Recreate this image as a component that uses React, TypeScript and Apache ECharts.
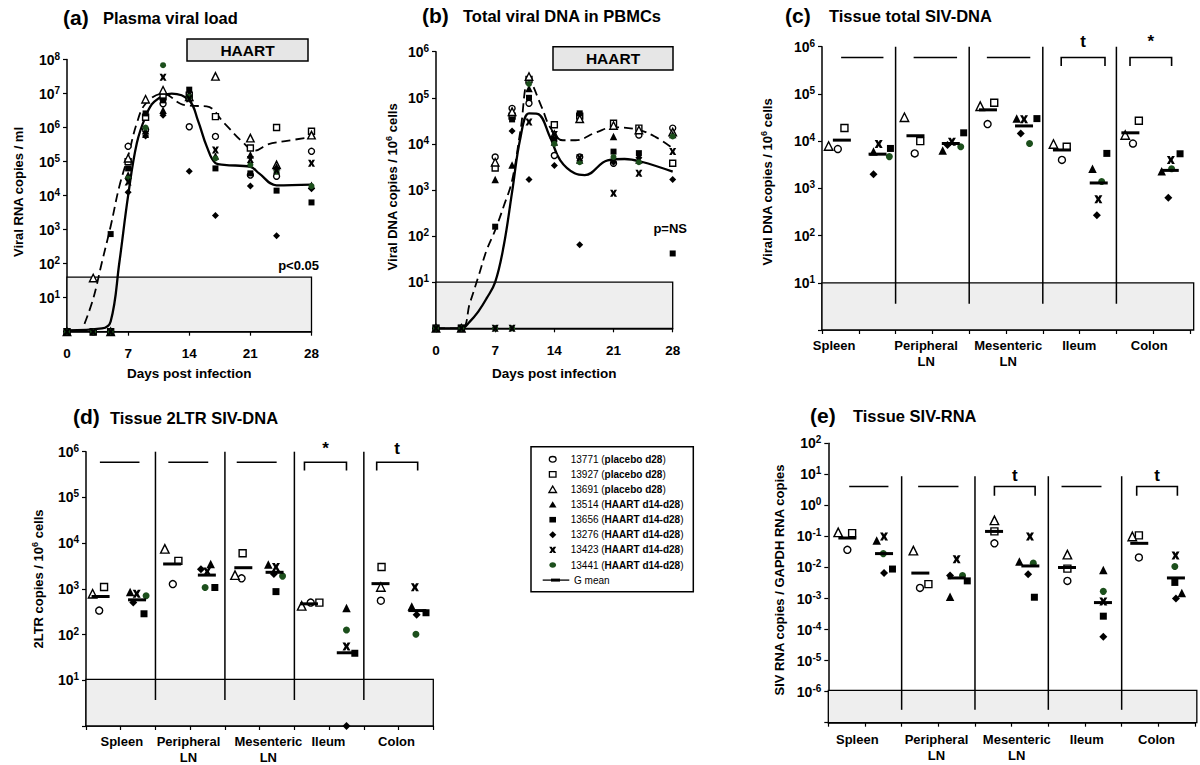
import React, { useEffect, useRef } from 'react';
import * as echarts from 'echarts';

const FONT = '"Liberation Sans", Arial, Helvetica, sans-serif';
const GREEN = '#1c4f1c';

// ---------------- animals / legend ----------------
const ANIMALS = ['13771', '13927', '13691', '13514', '13656', '13276', '13423', '13441'];
const GROUPS = ['placebo d28', 'placebo d28', 'placebo d28', 'HAART d14-d28', 'HAART d14-d28', 'HAART d14-d28', 'HAART d14-d28', 'HAART d14-d28'];
const MEAN_LABEL = 'G mean';

// ---------------- (a) plasma viral load (copies / ml) ----------------
const daysA = [0, 3, 5, 7, 9, 11, 14, 17, 21, 24, 28];
const plasmaA = [
  [1, 1, 1, 2.8e5, 8.7e5, 5e6, 1.05e6, 5.5e5, 4e4, 3.7e4, 2e5],
  [1, 1, 1, 1e5, 2e6, 8e6, 9e6, 2.1e6, 2.5e5, 1e6, 7.8e5],
  [1, 38, 1, 1.25e5, 6.8e6, 1.25e7, 8e6, 3.2e7, 4.9e5, 8e4, 6e5],
  [1, 1, 1, 4e4, 8e5, 3.2e6, 1e7, 1.45e5, 1.6e5, 7e4, 2e4],
  [1, 1, 740, 6.3e4, 2.6e6, 6.3e6, 1.3e7, 6.3e4, 4.5e4, 1.4e4, 6.3e3],
  [1, 1, 1, 1.25e4, 5.6e5, 2.3e6, 5.2e4, 2.6e3, 1.9e4, 660, 1.6e4],
  [1, 1, 1, 2.5e4, 6.3e5, 3e7, 7e6, 2.2e5, 1.15e5, 5.6e4, 9e4],
  [1, 1, 1, 3.2e4, 1e6, 6.8e7, 8e6, 1.25e5, 8e4, 5e4, 1.9e4],
];
const solidDaysA = [0, 4, 5, 6, 7, 8, 9, 10, 12, 14, 15, 16, 17, 18, 21, 22, 24, 28];
const solidA = [1.1, 1.25, 2, 110, 1e4, 3.5e5, 2.1e6, 5.8e6, 1e7, 6.3e6, 1.6e6, 2.8e5, 9e4, 8e4, 7e4, 4.5e4, 2e4, 2.1e4];
const dashDaysA = [2, 3, 4, 5, 6, 7, 8, 9, 11, 13, 14, 16, 18, 20, 21.5, 23, 25, 28];
const dashA = [1.7, 9.3, 110, 1.26e3, 1.9e4, 1.45e5, 1.35e6, 5e6, 1e7, 5e6, 4.4e6, 4.2e6, 1.35e6, 4e5, 2.1e5, 3.2e5, 4e5, 5.2e5];

// ---------------- (b) total viral DNA in PBMCs ----------------
const daysB = [0, 3, 7, 9, 11, 14, 17, 21, 24, 28];
const pbmcB = [
  [1, 1, 5.2e3, 5.9e4, 7.6e4, 5.6e3, 5.2e3, 3.8e3, 1.55e4, 2.2e4],
  [1, 1, 3e3, 4e4, 2.5e5, 2.6e4, 4e4, 2.8e4, 2.2e4, 3.8e3],
  [1, 1, 4e3, 5e4, 2.9e5, 1.6e4, 3.5e4, 2.5e4, 2e4, 1.8e4],
  [1, 1, 1.7e3, 3.5e3, 1.6e5, 1.1e4, 4.5e3, 1.45e4, 4.5e3, 1.6e4],
  [1, 1, 160, 3.4e4, 1e5, 1.26e4, 4.6e4, 6.8e3, 6.3e3, 42],
  [1, 1, 1, 1.9e4, 1.7e3, 3.4e3, 65, 4e3, 5e3, 1.7e3],
  [1, 1, 1, 1, 3e4, 1.6e4, 5e3, 850, 2.3e3, 6.8e3],
  [1, 1, 1, 1, 2e5, 1e4, 4e3, 5.2e3, 4e3, 1.45e4],
];
const solidDaysB = [0, 3, 4, 5, 6, 7, 8, 9, 10, 11, 12, 13.5, 14.7, 16.4, 17.6, 20.3, 22.3, 24.3, 28];
const solidB = [1, 1, 1.4, 2.3, 4.5, 10, 60, 9e2, 1.4e4, 4.6e4, 4.5e4, 1.4e4, 4.4e3, 2.3e3, 2.1e3, 4.4e3, 4.7e3, 4.1e3, 2.5e3];
const dashDaysB = [0, 3, 4, 5, 6, 7, 8, 9, 10, 11, 12.5, 13.5, 15, 16.5, 19, 21, 24, 26, 28];
const dashB = [1, 1, 3.5, 13, 50, 135, 440, 1.6e3, 2e4, 2.4e5, 6.3e4, 2.3e4, 1.2e4, 1.2e4, 1.8e4, 2.3e4, 2e4, 1.4e4, 8e3];

// ---------------- tissues ----------------
const TISSUES = ['Spleen', 'Peripheral\nLN', 'Mesenteric\nLN', 'Ileum', 'Colon'];

// (c) tissue total SIV-DNA: [position, copies / 10^6 cells]
const tissueTotalC = [
  [[0.43, 6.8e3], [2.52, 5.5e3], [4.50, 2.3e4], [6.52, 4e3], [8.45, 8.9e3]],
  [[0.61, 1.9e4], [2.67, 1.0e4], [4.68, 6.5e4], [6.65, 7.6e3], [8.61, 2.7e4]],
  [[0.18, 7.9e3], [2.24, 3.2e4], [4.30, 5.5e4], [6.29, 8.7e3], [8.24, 1.35e4]],
  [[1.40, 6e3], [3.28, 6.3e3], [5.29, 3e4], [7.35, 2.6e3], [9.23, 2.3e3]],
  [[1.86, 7e3], [3.85, 1.5e4], [5.84, 3e4], [7.74, 5.5e3], [9.73, 5.4e3]],
  [[1.40, 2e3], [3.41, 8.3e3], [5.40, 1.45e4], [7.47, 270], [9.41, 630]],
  [[1.54, 8.7e3], [3.53, 9.7e3], [5.49, 2.9e4], [7.51, 590], [9.48, 4e3]],
  [[1.83, 4.7e3], [3.77, 7.6e3], [5.64, 8.9e3], [7.60, 1.4e3], [9.50, 2.6e3]],
];
const gmeanC = [[0.54, 1.05e4], [2.54, 1.3e4], [4.51, 4.6e4], [6.52, 6.5e3], [8.38, 1.5e4],
  [1.51, 5.3e3], [3.50, 8.9e3], [5.49, 2.1e4], [7.52, 1.3e3], [9.45, 2.4e3]];
const bracketsC = [[0.52, 1.67, 0], [2.49, 3.67, 0], [4.48, 5.66, 0], [6.50, 7.69, 1], [8.37, 9.50, 1]];
const signifC = ['', '', '', 't', '*'];

// (d) tissue 2LTR SIV-DNA
const tissue2ltrD = [
  [[0.38, 335], [2.50, 1270], [4.48, 1700], [6.47, 500], [8.49, 550]],
  [[0.52, 1100], [2.66, 4100], [4.51, 6000], [6.72, 500], [8.51, 3000]],
  [[0.19, 780], [2.27, 7500], [4.29, 2000], [6.21, 425], [8.49, 1100]],
  [[1.27, 850], [3.59, 3500], [5.25, 3400], [7.50, 380], [9.38, 410]],
  [[1.67, 285], [3.71, 1070], [5.47, 870], [7.74, 39], [9.79, 300]],
  [[1.36, 500], [3.31, 2700], [5.41, 2100], [7.50, 1], [9.52, 270]],
  [[1.46, 780], [3.49, 2400], [5.47, 3000], [7.50, 55], [9.47, 1090]],
  [[1.73, 705], [3.43, 1070], [5.66, 1900], [7.50, 126], [9.50, 102]],
];
const gmeanD = [[0.42, 680], [2.48, 3500], [4.53, 2900], [6.42, 470], [8.48, 1300],
  [1.47, 575], [3.48, 2000], [5.43, 2300], [7.48, 40], [9.54, 335]];
const bracketsD = [[0.40, 1.54, 0], [2.37, 3.52, 0], [4.34, 5.49, 0], [6.29, 7.50, 1], [8.37, 9.55, 1]];
const signifD = ['', '', '', '*', 't'];

// (e) tissue SIV-RNA (SIV RNA / GAPDH RNA copies)
const tissueRnaE = [
  [[0.52, 0.037], [2.50, 0.0022], [4.53, 0.06], [6.52, 0.0037], [8.47, 0.021]],
  [[0.65, 0.128], [2.73, 0.0029], [4.53, 0.145], [6.52, 0.0092], [8.47, 0.108]],
  [[0.27, 0.135], [2.32, 0.035], [4.53, 0.33], [6.52, 0.026], [8.29, 0.1]],
  [[1.32, 0.074], [3.32, 0.00115], [5.21, 0.0155], [7.50, 0.0083], [9.64, 0.0015]],
  [[1.75, 0.0089], [3.79, 0.0037], [5.62, 0.0011], [7.50, 0.00027], [9.45, 0.0033]],
  [[1.52, 0.0066], [3.32, 0.0055], [5.45, 0.006], [7.50, 5.9e-5], [9.48, 0.001]],
  [[1.52, 0.10], [3.50, 0.0185], [5.50, 0.10], [7.50, 0.0008], [9.47, 0.0245]],
  [[1.50, 0.028], [3.66, 0.0055], [5.59, 0.0138], [7.50, 0.0017], [9.45, 0.0107]],
];
const gmeanE = [[0.52, 0.089], [2.51, 0.0066], [4.52, 0.145], [6.51, 0.010], [8.48, 0.06],
  [1.52, 0.028], [3.50, 0.0046], [5.51, 0.0112], [7.49, 0.00074], [9.48, 0.0046]];
const bracketsE = [[0.57, 1.64, 0], [2.45, 3.55, 0], [4.53, 5.64, 1], [6.36, 7.45, 0], [8.41, 9.52, 1]];
const signifE = ['', '', 't', '', 't'];

// detection-limit boxes (upper edge)
const LIMIT = { a: 40, b: 10, c: 10, d: 10.5, e: 1.1e-6 };

// ---------------- layout ----------------
const GRIDS = [
  { left: 67, top: 59.5, width: 244.5, height: 272.2 },
  { left: 436, top: 51.7, width: 236.7, height: 276.6 },
  { left: 822, top: 46.7, width: 368, height: 283.3 },
  { left: 86, top: 451.7, width: 347.3, height: 274.3 },
  { left: 828.3, top: 443.3, width: 366.7, height: 279.4 },
];
const LABEL_POS = {
  c: [0.33, 2.83, 5.06, 6.99, 8.89],
  d: [1.03, 2.95, 5.25, 6.98, 8.94],
  e: [0.79, 2.95, 5.14, 7.05, 8.95],
};

const X_PTS = [[0, 0], [3.6, 0], [5, 2.6], [6.4, 0], [10, 0], [7.1, 5], [10, 10], [6.4, 10], [5, 7.4], [3.6, 10], [0, 10], [2.9, 5]];
const X_PATH = 'path://M' + X_PTS.map((p) => p.join(',')).join('L') + 'Z';
const SYMBOL = ['circle', 'rect', 'triangle', 'triangle', 'rect', 'diamond', X_PATH, 'circle'];
const FILL = ['#fff', '#fff', '#fff', '#000', '#000', '#000', '#000', GREEN];
const OPEN = [true, true, true, false, false, false, false, false];

function logY(gi: number, minExp: number, maxExp: number) {
  return {
    type: 'log', logBase: 10, gridIndex: gi,
    min: Math.pow(10, minExp), max: Math.pow(10, maxExp), splitNumber: maxExp - minExp,
    axisLine: { show: true, lineStyle: { color: '#000', width: 1.5 } },
    axisTick: { show: true, length: 4, lineStyle: { color: '#000', width: 1.2 } },
    splitLine: { show: false },
    minorTick: { show: false },
    axisLabel: {
      color: '#000', fontFamily: FONT, fontWeight: 'bold', fontSize: 14, margin: 7,
      formatter: (v: number) => {
        const e = Math.round(Math.log10(v));
        if (e <= minExp) return '';
        return '{m|10}{s|' + e + '}';
      },
      rich: {
        m: { fontSize: 14, fontWeight: 'bold', fontFamily: FONT, color: '#000' },
        s: { fontSize: 10, fontWeight: 'bold', fontFamily: FONT, color: '#000', verticalAlign: 'top', padding: [0, 0, 7, 0] },
      },
    },
  };
}

function daysX(gi: number) {
  return {
    type: 'value', gridIndex: gi, min: 0, max: 28, interval: 7,
    axisLine: { show: true, onZero: false, lineStyle: { color: '#000', width: 1.5 } },
    axisTick: { show: true, length: 4, lineStyle: { color: '#000', width: 1.2 } },
    splitLine: { show: false },
    axisLabel: { color: '#000', fontFamily: FONT, fontWeight: 'bold', fontSize: 13.5, margin: 15 },
  };
}

function tissueX(gi: number) {
  return {
    type: 'value', gridIndex: gi, min: 0, max: 10, interval: 1,
    axisLine: { show: true, onZero: false, lineStyle: { color: '#000', width: 1.5 } },
    axisTick: { show: true, length: 4, lineStyle: { color: '#000', width: 1.2 } },
    splitLine: { show: false },
    axisLabel: { show: false },
  };
}

function scatterSeries(i: number, gi: number, data: any[], base: number) {
  const sym = SYMBOL[i];
  const isX = sym === X_PATH;
  const size = sym === 'triangle' ? base + 1.5 : sym === 'diamond' ? base + 1 : isX ? base + 1 : base;
  return {
    type: 'scatter', name: ANIMALS[i], xAxisIndex: gi, yAxisIndex: gi, data,
    symbol: sym, symbolSize: size, clip: false, silent: true, z: isX ? 7 : 5,
    itemStyle: { color: FILL[i], borderColor: OPEN[i] ? '#000' : FILL[i], borderWidth: OPEN[i] ? 1.4 : 0, opacity: 1 },
  };
}

function meanSeries(gi: number, data: any[]) {
  return {
    type: 'scatter', name: MEAN_LABEL, xAxisIndex: gi, yAxisIndex: gi, data,
    symbol: 'rect', symbolSize: [18, 3], clip: false, silent: true, z: 6,
    itemStyle: { color: '#000', opacity: 1 },
  };
}

function lineSeries(gi: number, xs: number[], ys: number[], dashed: boolean) {
  return {
    type: 'line', xAxisIndex: gi, yAxisIndex: gi, data: xs.map((x, k) => [x, ys[k]]),
    smooth: 0.4, symbol: 'none', silent: true, z: 4,
    lineStyle: { color: '#000', width: dashed ? 1.8 : 2.3, type: dashed ? [9, 5] : 'solid' },
  };
}

function greyBox(gi: number, x0: number, x1: number, top: number, bottom: number) {
  return {
    type: 'custom', xAxisIndex: gi, yAxisIndex: gi, silent: true, z: 1, clip: false,
    data: [[x0, top, x1, bottom]],
    renderItem: (_p: any, api: any) => {
      const a = api.coord([api.value(0), api.value(1)]);
      const b = api.coord([api.value(2), api.value(3)]);
      return {
        type: 'rect',
        shape: { x: a[0], y: a[1], width: b[0] - a[0], height: b[1] - a[1] },
        style: { fill: '#eeeeee', stroke: '#000', lineWidth: 1.3 },
      };
    },
  };
}

function separators(gi: number, xs: number[], top: number, bottom: number) {
  return {
    type: 'custom', xAxisIndex: gi, yAxisIndex: gi, silent: true, z: 2, clip: false,
    data: xs.map((x) => [x, top, bottom]),
    renderItem: (_p: any, api: any) => {
      const a = api.coord([api.value(0), api.value(1)]);
      const b = api.coord([api.value(0), api.value(2)]);
      return { type: 'line', shape: { x1: a[0], y1: a[1], x2: b[0], y2: b[1] }, style: { stroke: '#000', lineWidth: 1.5 } };
    },
  };
}

function brackets(gi: number, spans: number[][], marks: string[], yLine: number, yEnd: number, yMark: number) {
  return {
    type: 'custom', xAxisIndex: gi, yAxisIndex: gi, silent: true, z: 3, clip: false,
    data: spans.map((s) => [s[0], yLine, s[1], yEnd, s[2], yMark]),
    renderItem: (params: any, api: any) => {
      const x1 = api.value(0), x2 = api.value(2);
      const a = api.coord([x1, api.value(1)]);
      const b = api.coord([x2, api.value(1)]);
      const e = api.coord([x1, api.value(3)]);
      const pts = api.value(4) ? [[a[0], e[1]], a, b, [b[0], e[1]]] : [a, b];
      const children: any[] = [{ type: 'polyline', shape: { points: pts }, style: { stroke: '#000', lineWidth: 1.6, fill: null } }];
      const mk = marks[params.dataIndex];
      if (mk) {
        const m = api.coord([(x1 + x2) / 2, api.value(5)]);
        children.push({
          type: 'text', x: m[0], y: m[1],
          style: { text: mk, fontSize: 17, fontWeight: 'bold', fontFamily: FONT, fill: '#000', align: 'center', verticalAlign: 'middle', textAlign: 'center', textVerticalAlign: 'middle' },
        });
      }
      return { type: 'group', children };
    },
  };
}

function txt(x: number, y: number, text: string, size: number, opts: any = {}) {
  const align = opts.align || 'left';
  const va = opts.va || 'middle';
  return {
    type: 'text', x, y, rotation: opts.rotation || 0, silent: true, z: 20,
    style: {
      text, fill: opts.color || '#000', fontSize: size, fontWeight: opts.weight || 'bold', fontFamily: FONT,
      align, verticalAlign: va, textAlign: align, textVerticalAlign: va,
      lineHeight: opts.lineHeight, rich: opts.rich,
    },
  };
}

const SUP = { s: { fontSize: 9, fontWeight: 'bold', fontFamily: FONT, fill: '#000', color: '#000', verticalAlign: 'top', padding: [0, 0, 6, 0] } };

function buildOption() {
  const series: any[] = [];
  // (a)
  series.push(greyBox(0, 0, 28, LIMIT.a, 1));
  series.push(lineSeries(0, solidDaysA, solidA, false));
  series.push(lineSeries(0, dashDaysA, dashA, true));
  ANIMALS.forEach((_, i) => series.push(scatterSeries(i, 0, daysA.map((d, k) => [d, plasmaA[i][k]]), 6)));
  // (b)
  series.push(greyBox(1, 0, 28, LIMIT.b, 1));
  series.push(lineSeries(1, solidDaysB, solidB, false));
  series.push(lineSeries(1, dashDaysB, dashB, true));
  ANIMALS.forEach((_, i) => series.push(scatterSeries(i, 1, daysB.map((d, k) => [d, pbmcB[i][k]]), 6)));
  // (c)
  series.push(greyBox(2, 0, 10.1, LIMIT.c, 1));
  series.push(separators(2, [2, 4, 6, 8], 1e6, 3.6));
  series.push(brackets(2, bracketsC, signifC, Math.pow(10, 5.77), Math.pow(10, 5.59), Math.pow(10, 6.1)));
  ANIMALS.forEach((_, i) => series.push(scatterSeries(i, 2, tissueTotalC[i], 7)));
  series.push(meanSeries(2, gmeanC));
  // (d)
  series.push(greyBox(3, 0, 10, LIMIT.d, 1));
  series.push(separators(3, [2, 4, 6, 8], 1e6, 3.7));
  series.push(brackets(3, bracketsD, signifD, Math.pow(10, 5.77), Math.pow(10, 5.59), Math.pow(10, 6.06)));
  ANIMALS.forEach((_, i) => series.push(scatterSeries(i, 3, tissue2ltrD[i], 7)));
  series.push(meanSeries(3, gmeanD));
  // (e)
  series.push(greyBox(4, 0, 10.05, LIMIT.e, 1e-7));
  series.push(separators(4, [2, 4, 6, 8], 8.7, 2.6e-7));
  series.push(brackets(4, bracketsE, signifE, Math.pow(10, 0.61), Math.pow(10, 0.31), Math.pow(10, 0.97)));
  ANIMALS.forEach((_, i) => series.push(scatterSeries(i, 4, tissueRnaE[i], 7)));
  series.push(meanSeries(4, gmeanE));

  const g: any[] = [];
  // titles
  const titles = [
    [63, 103, 17, '(a)', 'Plasma viral load'],
    [422, 463, 15, '(b)', 'Total viral DNA in PBMCs'],
    [785, 829, 15, '(c)', 'Tissue total SIV-DNA'],
    [73, 110, 416.7, '(d)', 'Tissue 2LTR SIV-DNA'],
    [810, 853, 415, '(e)', 'Tissue SIV-RNA'],
  ];
  titles.forEach((t: any) => {
    g.push(txt(t[0], t[2], t[3], 21));
    g.push(txt(t[1], t[2] + 1, t[4], 16.5));
  });
  // y-axis names
  const yNames = [
    [18, 192, 'Viral RNA copies / ml'],
    [392, 187, 'Viral DNA copies / 10{s|6} cells'],
    [767, 182, 'Viral DNA copies / 10{s|6} cells'],
    [38, 579, '2LTR copies / 10{s|6} cells'],
    [779, 580, 'SIV RNA copies / GAPDH RNA copies'],
  ];
  yNames.forEach((n: any) => g.push(txt(n[0], n[1], n[2], 13, { align: 'center', rotation: Math.PI / 2, rich: SUP })));
  // x-axis names for (a),(b)
  [0, 1].forEach((gi) => {
    const gr = GRIDS[gi];
    g.push(txt(gr.left + gr.width / 2, 373, 'Days post infection', 13.5, { align: 'center' }));
  });
  // tissue category labels
  ([['c', 2, 7], ['d', 3, 7], ['e', 4, 9]] as any[]).forEach(([k, gi, off]) => {
    const gr = GRIDS[gi];
    (LABEL_POS as any)[k].forEach((p: number, j: number) => {
      g.push(txt(gr.left + (p / 10) * gr.width, gr.top + gr.height + off, TISSUES[j], 13, { align: 'center', va: 'top', lineHeight: 16 }));
    });
  });
  // HAART boxes
  const haart = [[187, 39, 121, 22], [553, 46.7, 120, 23.3]];
  haart.forEach((h) => {
    g.push({ type: 'rect', shape: { x: h[0], y: h[1], width: h[2], height: h[3] }, style: { fill: '#e6e6e6', stroke: '#000', lineWidth: 1.5 }, z: 15, silent: true });
    g.push(txt(h[0] + h[2] / 2, h[1] + h[3] / 2 + 0.5, 'HAART', 15.5, { align: 'center' }));
  });
  // p-values
  g.push(txt(319, 265, 'p<0.05', 13, { align: 'right' }));
  g.push(txt(687, 228, 'p=NS', 13, { align: 'right' }));

  // legend
  const lx = 531, ly = 446.7;
  g.push({ type: 'rect', shape: { x: lx, y: ly, width: 162.3, height: 145 }, style: { fill: '#fff', stroke: '#000', lineWidth: 1.5 }, z: 15, silent: true });
  const rowY = (r: number) => 459.3 + r * 15.1;
  const sx = 552.7;
  ANIMALS.forEach((name, i) => {
    const cy = rowY(i);
    const open = OPEN[i];
    const st = { fill: FILL[i], stroke: open ? '#000' : FILL[i], lineWidth: open ? 1.3 : 0 };
    const sym = SYMBOL[i];
    let el: any;
    if (sym === 'circle') el = { type: 'ellipse', shape: { cx: sx, cy, rx: 3.4, ry: 2.8 }, style: st };
    else if (sym === 'rect') el = { type: 'rect', shape: { x: sx - 3.3, y: cy - 2.8, width: 6.6, height: 5.6 }, style: st };
    else if (sym === 'triangle') el = { type: 'polygon', shape: { points: [[sx, cy - 3.4], [sx + 3.8, cy + 3], [sx - 3.8, cy + 3]] }, style: st };
    else if (sym === 'diamond') el = { type: 'polygon', shape: { points: [[sx, cy - 3.5], [sx + 3.6, cy], [sx, cy + 3.5], [sx - 3.6, cy]] }, style: st };
    else el = { type: 'polygon', shape: { points: X_PTS.map((p) => [sx - 3.5 + p[0] * 0.7, cy - 3.2 + p[1] * 0.64]) }, style: st };
    el.z = 16; el.silent = true;
    g.push(el);
    g.push(txt(570.7, cy, name + ' ({b|' + GROUPS[i] + '})', 10, {
      weight: 'normal', rich: { b: { fontWeight: 'bold', fontSize: 10, fontFamily: FONT, fill: '#000', color: '#000' } },
    }));
  });
  const my = rowY(8);
  g.push({ type: 'line', shape: { x1: 542.7, y1: my, x2: 569.3, y2: my }, style: { stroke: '#000', lineWidth: 1.3 }, z: 16, silent: true });
  g.push({ type: 'rect', shape: { x: 551, y: my - 1.5, width: 9, height: 3 }, style: { fill: '#000' }, z: 16, silent: true });
  g.push(txt(574, my, MEAN_LABEL, 10, { weight: 'normal' }));

  return {
    animation: false,
    backgroundColor: '#fff',
    grid: GRIDS.map((gr) => ({ ...gr, containLabel: false })),
    xAxis: [daysX(0), daysX(1), tissueX(2), tissueX(3), tissueX(4)],
    yAxis: [logY(0, 0, 8), logY(1, 0, 6), logY(2, 0, 6), logY(3, 0, 6), logY(4, -7, 2)],
    series,
    graphic: { elements: g },
  };
}

export default function App() {
  const ref = useRef<HTMLDivElement>(null);
  useEffect(() => {
    if (!ref.current) return;
    const chart = echarts.init(ref.current, undefined, { renderer: 'svg' });
    chart.setOption(buildOption() as any);
    return () => chart.dispose();
  }, []);
  return <div ref={ref} style={{ position: 'absolute', left: 0, top: 0, width: 1200, height: 765, background: '#fff' }} />;
}
